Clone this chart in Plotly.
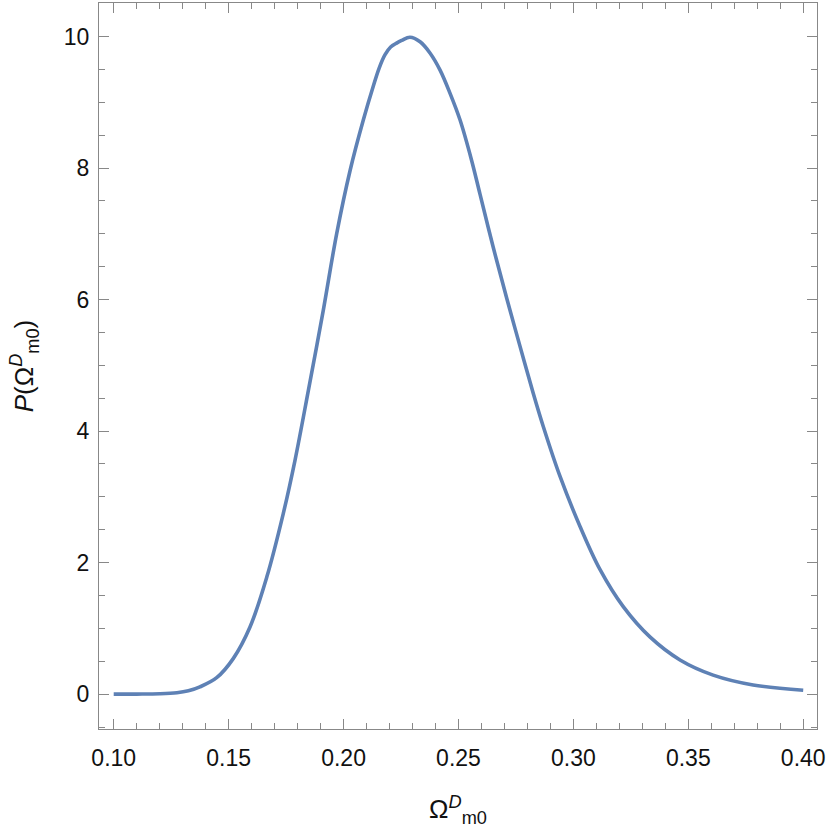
import plotly.graph_objects as go

omega = [0.100, 0.110, 0.120, 0.1275, 0.1325, 0.1375, 0.1448, 0.152, 0.1593, 0.1666,
         0.1738, 0.1789, 0.1847, 0.1912, 0.197, 0.2029, 0.2086, 0.2129, 0.2155, 0.218,
         0.2205, 0.2231, 0.2253, 0.2289, 0.2333, 0.2376, 0.242, 0.2463, 0.2507, 0.2557,
         0.2594, 0.2651, 0.271, 0.2767, 0.2825, 0.2869, 0.2942, 0.3029, 0.3115, 0.3217,
         0.3333, 0.3464, 0.3608, 0.3782, 0.400]
prob = [0.000, 0.001, 0.005, 0.02, 0.05, 0.11, 0.25, 0.54, 1.02, 1.78,
        2.75, 3.56, 4.62, 5.84, 7.00, 7.97, 8.73, 9.24, 9.52, 9.72,
        9.84, 9.90, 9.94, 9.99, 9.92, 9.75, 9.49, 9.14, 8.73, 8.12,
        7.60, 6.80, 6.02, 5.30, 4.58, 4.07, 3.31, 2.55, 1.90, 1.33,
        0.87, 0.52, 0.29, 0.14, 0.06]

x_ticks = [0.10, 0.15, 0.20, 0.25, 0.30, 0.35, 0.40]
x_ticktext = ["0.10", "0.15", "0.20", "0.25", "0.30", "0.35", "0.40"]
y_ticks = [0, 2, 4, 6, 8, 10]

fig = go.Figure()
fig.add_trace(go.Scatter(x=omega, y=prob, mode="lines",
                         line=dict(color="#5E81B5", width=3.6, shape="spline", smoothing=1.0),
                         showlegend=False, hoverinfo="skip"))

axis_common = dict(
    showline=True, linecolor="#888888", linewidth=1.3, mirror="ticks",
    ticks="inside", ticklen=10, tickwidth=1.2, tickcolor="#888888",
    showgrid=False, zeroline=False, automargin=False,
    tickfont=dict(family="Liberation Sans, Arial", size=23, color="#111111"),
)

fig.update_xaxes(
    range=[0.0936, 0.406], tickvals=x_ticks, ticktext=x_ticktext,
    minor=dict(dtick=0.01, tick0=0.10, ticks="inside", ticklen=6, tickcolor="#888888", tickwidth=1.2),
    title=dict(text="Ω<sup><i>D</i></sup><sub>m0</sub>", font=dict(family="Liberation Sans, Arial", size=26, color="#111111"), standoff=30),
    ticklabelstandoff=8,
    **axis_common,
)
fig.update_yaxes(
    range=[-0.53, 10.51], tickvals=y_ticks,
    minor=dict(dtick=0.5, tick0=0, ticks="inside", ticklen=6, tickcolor="#888888", tickwidth=1.2),
    title=dict(text="<i>P</i>(Ω<sup><i>D</i></sup><sub>m0</sub>)", font=dict(family="Liberation Sans, Arial", size=26, color="#111111"), standoff=22),
    ticklabelstandoff=4,
    **axis_common,
)

fig.update_layout(
    width=830, height=830,
    margin=dict(l=99, r=13, t=3, b=101),
    paper_bgcolor="white", plot_bgcolor="white",
)

fig.write_html("out.html", config={"displayModeBar": False},
               post_script="document.body.style.margin='0';document.body.style.overflow='hidden';")
